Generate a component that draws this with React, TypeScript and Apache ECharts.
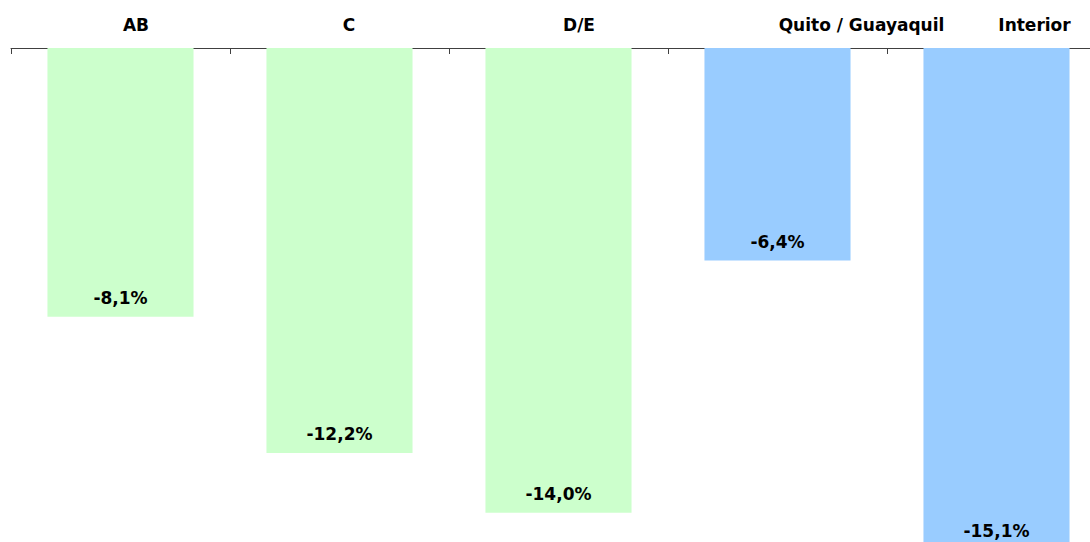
import React, { useEffect, useRef } from "react";
import * as echarts from "echarts";

const categories = ["AB", "C", "D/E", "Quito / Guayaquil", "Interior"];
const values = [-8.1, -12.2, -14.0, -6.4, -15.1];
const barColors = ["#CCFFCC", "#CCFFCC", "#CCFFCC", "#99CCFF", "#99CCFF"];
const labelShift = [31, 19, 41, 168, 76];

export default function App() {
  const ref = useRef<HTMLDivElement>(null);
  useEffect(() => {
    if (!ref.current) return;
    const chart = echarts.init(ref.current, null, { renderer: "svg" });
    const rich: any = {};
    labelShift.forEach((p, i) => {
      rich["s" + i] = {
        padding: [0, 0, 0, p],
        fontFamily: "DejaVu Sans",
        fontWeight: "bold",
        fontSize: 17,
        color: "#000",
      };
    });
    chart.setOption({
      animation: false,
      grid: { left: 11, right: 4, top: 48, bottom: 1, containLabel: false },
      xAxis: {
        type: "category",
        position: "top",
        data: categories,
        axisLine: { show: true, lineStyle: { color: "#404040", width: 1 } },
        axisTick: { show: true, inside: true, length: 6, lineStyle: { color: "#404040" } },
        axisLabel: {
          interval: 0,
          margin: 15,
          formatter: (v: string, i: number) => `{s${i}|${v}}`,
          rich,
        },
      },
      yAxis: {
        type: "value",
        min: -16,
        max: 0,
        show: false,
        splitLine: { show: false },
      },
      series: [
        {
          type: "bar",
          barWidth: "66.7%",
          clip: false,
          data: values.map((v, i) => ({ value: v, itemStyle: { color: barColors[i] } })),
          label: {
            show: true,
            position: "insideBottom",
            distance: 10,
            formatter: (p: any) => p.value.toFixed(1).replace(".", ",") + "%",
            fontFamily: "DejaVu Sans",
            fontWeight: "bold",
            fontSize: 17,
            color: "#000",
          },
        },
      ],
    });
    return () => chart.dispose();
  }, []);
  return (
    <div
      ref={ref}
      style={{ position: "fixed", left: 0, top: 0, width: 1110, height: 580, background: "#fff" }}
    />
  );
}
